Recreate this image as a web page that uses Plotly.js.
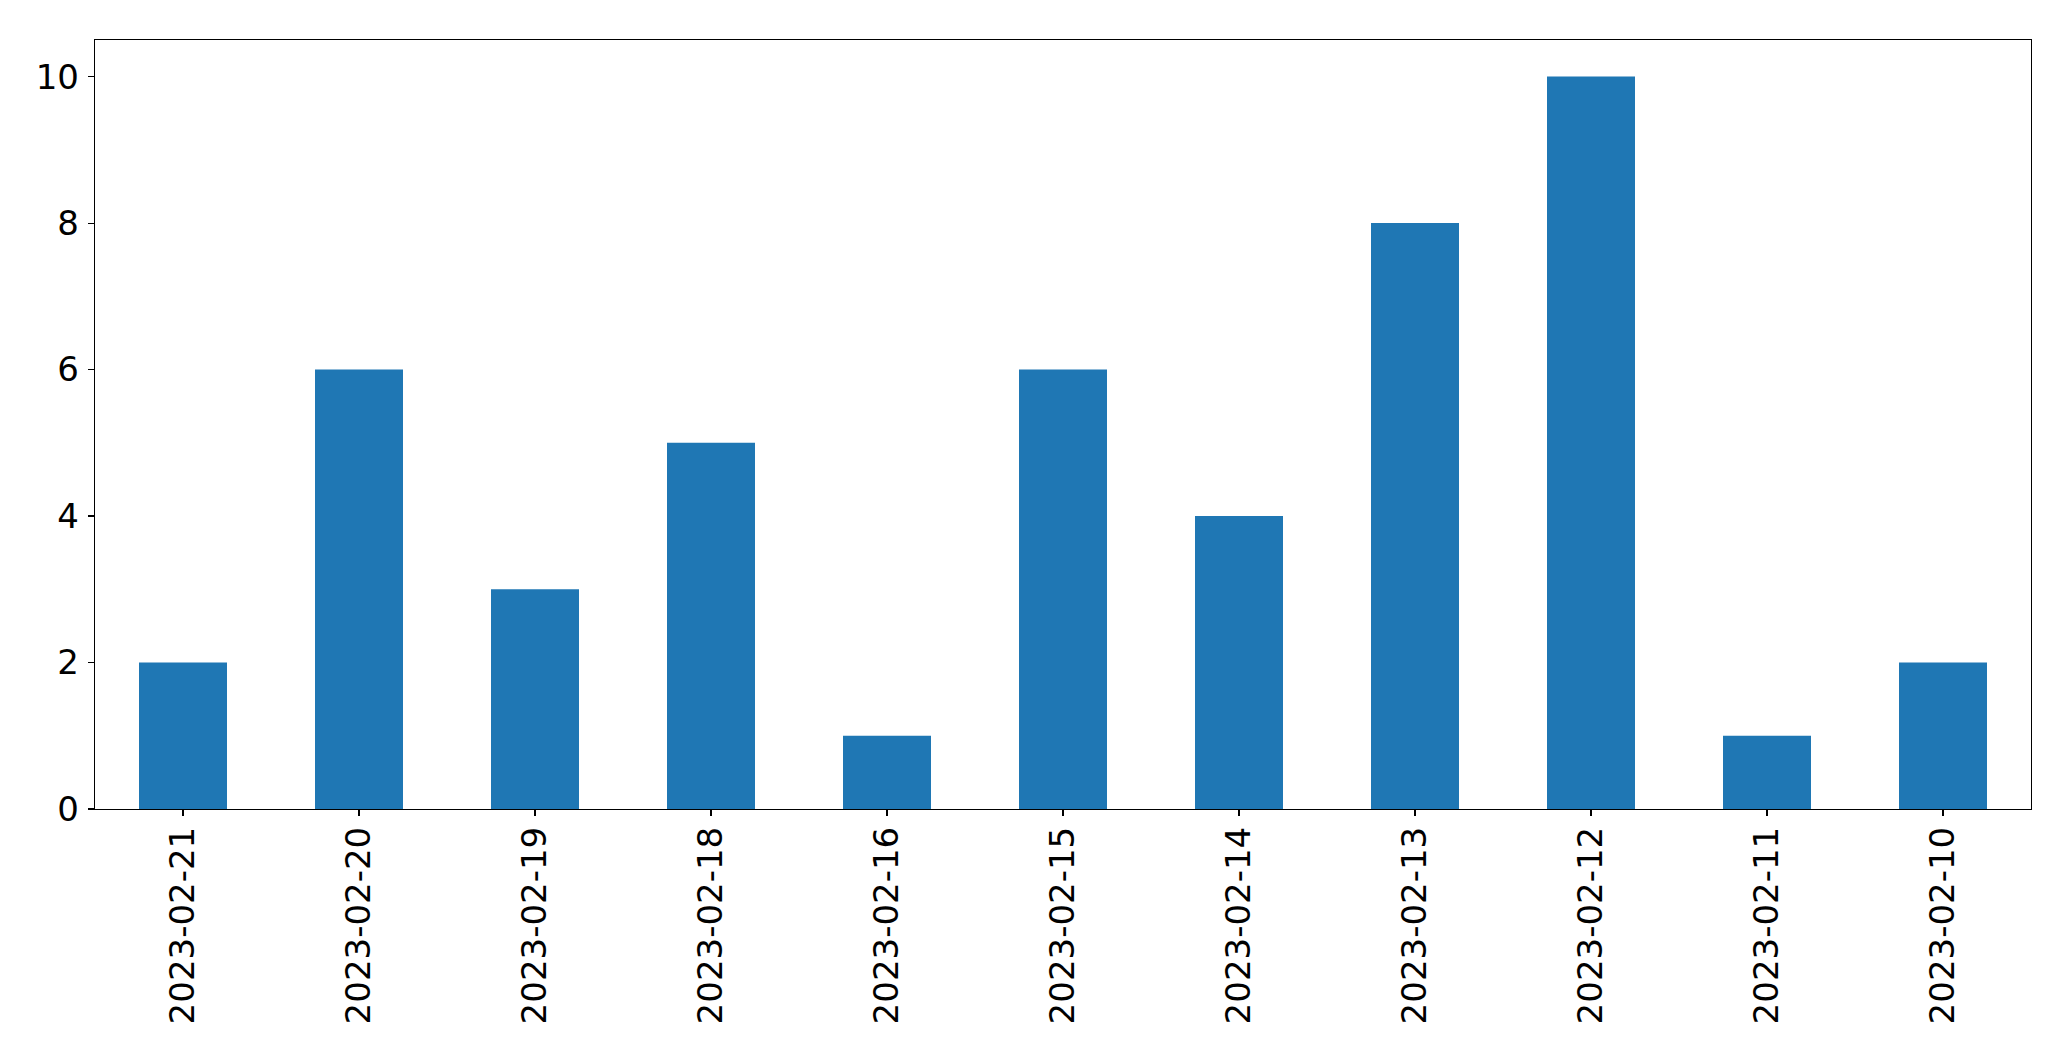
<!DOCTYPE html>
<html>
<head>
<meta charset="utf-8">
<script src="https://cdn.plot.ly/plotly-3.0.1.min.js"></script>
<style>
html,body{margin:0;padding:0;background:#fff;}
#chart{width:2071px;height:1061px;}
</style>
</head>
<body>
<div id="chart"></div>
<script>
const dates = ["2023-02-21","2023-02-20","2023-02-19","2023-02-18","2023-02-16","2023-02-15","2023-02-14","2023-02-13","2023-02-12","2023-02-11","2023-02-10"];
const counts = [2,6,3,5,1,6,4,8,10,1,2];
const yTicks = [0,2,4,6,8,10];

const font = {family: "DejaVu Sans", size: 34, color: "#000"};

Plotly.newPlot("chart", [{
  type: "bar",
  x: dates,
  y: counts,
  width: 0.5,
  marker: {color: "#1f77b4", line: {width: 0}},
  hoverinfo: "x+y"
}], {
  width: 2071,
  height: 1061,
  margin: {l: 95, r: 40, t: 40, b: 252, pad: 0},
  paper_bgcolor: "#fff",
  plot_bgcolor: "#fff",
  showlegend: false,
  font: font,
  xaxis: {
    type: "category",
    range: [-0.5, 10.5],
    tickangle: -90,
    ticks: "outside",
    ticklen: 6,
    tickwidth: 1.2,
    tickcolor: "#000",
    showline: true,
    linecolor: "#000",
    linewidth: 1.2,
    mirror: true,
    showgrid: false,
    zeroline: false,
    tickfont: font,
    ticklabelstandoff: -3
  },
  yaxis: {
    range: [0, 10.5],
    tickvals: yTicks,
    ticktext: yTicks.map(String),
    ticks: "outside",
    ticklen: 6,
    tickwidth: 1.2,
    tickcolor: "#000",
    showline: true,
    linecolor: "#000",
    linewidth: 1.2,
    mirror: true,
    showgrid: false,
    zeroline: false,
    tickfont: font,
    ticklabelstandoff: 2
  }
}, {displayModeBar: false, staticPlot: true});
</script>
</body>
</html>
